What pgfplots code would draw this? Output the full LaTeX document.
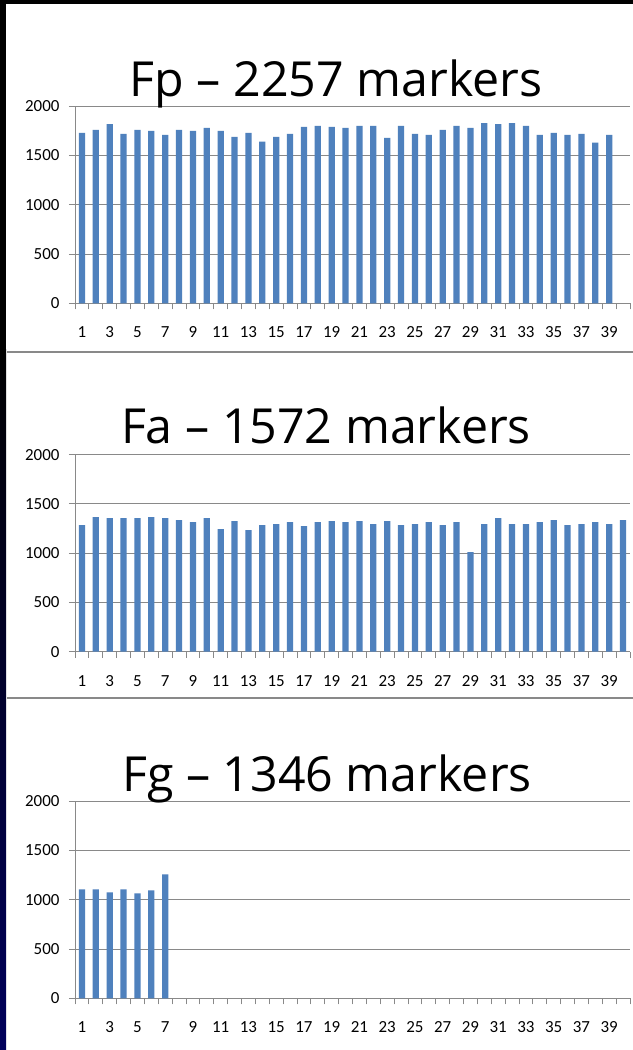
\documentclass[border=0pt]{standalone}
\usepackage{pgfplots}
\pgfplotsset{compat=1.18}
\usepackage{fontspec}
\setmainfont{Carlito}
\newfontfamily\titlefont{Open Sans}
\definecolor{barblue}{HTML}{4F81BD}
\definecolor{gridgray}{HTML}{898989}

\pgfplotsset{panel/.style={
    scale only axis, width=555bp, height=197bp,
    anchor=south west,
    xmin=0.5, xmax=40.5, ymin=0, ymax=2000,
    axis x line*=bottom, axis y line*=left,
    axis line style={gridgray, line width=0.9bp, -},
    ytick={0,500,...,2000},
    ymajorgrids, major grid style={gridgray, line width=0.9bp},
    xtick={1,3,...,39},
    minor xtick={0.5,1.5,...,40.5},
    major x tick style={draw=none},
    minor x tick style={gridgray, line width=0.9bp},
    y tick style={gridgray, line width=0.9bp},
    tick align=outside,
    major tick length=6bp, minor tick length=6bp,
    ticklabel style={font=\fontsize{17}{18}\selectfont},
    xticklabel style={yshift=-14bp},
    yticklabel style={xshift=-6bp},
    /pgf/number format/assume math mode=true,
    /pgf/number format/1000 sep={},
    bar width=6.2bp,
    clip=false,
}}

\begin{document}
\begin{tikzpicture}
\useasboundingbox (0,0) rectangle (633bp,1050bp);
\fill[white] (0,0) rectangle (633bp,1050bp);
% slide edges
\shade[top color=black, bottom color=black!40!blue!60!black] (0,0) rectangle (6bp,700bp);
\fill[black] (0,700bp) rectangle (6bp,1050bp);
\fill[black] (0,1046bp) rectangle (633bp,1050bp);
\draw[gridgray, line width=1.5bp] (7bp,698bp) -- (633bp,698bp);
\draw[gridgray, line width=1.5bp] (7bp,352bp) -- (633bp,352bp);

% Fp panel
\begin{axis}[panel, at={(75bp,746.7bp)}]
\addplot[ybar, fill=barblue, draw=none] coordinates {
(1,1730) (2,1760) (3,1820) (4,1720) (5,1760) (6,1750) (7,1710) (8,1760)
(9,1750) (10,1780) (11,1750) (12,1690) (13,1730) (14,1640) (15,1690) (16,1720)
(17,1790) (18,1800) (19,1790) (20,1780) (21,1800) (22,1800) (23,1680) (24,1800)
(25,1720) (26,1710) (27,1760) (28,1800) (29,1780) (30,1830) (31,1820) (32,1830)
(33,1800) (34,1710) (35,1730) (36,1710) (37,1720) (38,1630) (39,1710)};
\end{axis}
\node[anchor=base, inner sep=0pt] at (336bp,953bp) {\titlefont\fontsize{48.5}{50}\selectfont Fp – 2257 markers};

% Fa panel
\begin{axis}[panel, at={(75bp,398.3bp)}]
\addplot[ybar, fill=barblue, draw=none] coordinates {
(1,1285) (2,1365) (3,1355) (4,1355) (5,1355) (6,1365) (7,1355) (8,1335)
(9,1315) (10,1355) (11,1245) (12,1325) (13,1235) (14,1285) (15,1295) (16,1315)
(17,1275) (18,1315) (19,1325) (20,1315) (21,1325) (22,1295) (23,1325) (24,1285)
(25,1295) (26,1315) (27,1285) (28,1315) (29,1010) (30,1295) (31,1355) (32,1295)
(33,1295) (34,1315) (35,1335) (36,1285) (37,1295) (38,1315) (39,1295) (40,1335)};
\end{axis}
\node[anchor=base, inner sep=0pt] at (326bp,606bp) {\titlefont\fontsize{48.5}{50}\selectfont Fa – 1572 markers};

% Fg panel
\begin{axis}[panel, at={(75bp,51.7bp)}]
\addplot[ybar, fill=barblue, draw=none] coordinates {
(1,1105) (2,1105) (3,1075) (4,1105) (5,1065) (6,1095) (7,1258)};
\end{axis}
\node[anchor=base, inner sep=0pt] at (327bp,258bp) {\titlefont\fontsize{48.5}{50}\selectfont Fg – 1346 markers};
\end{tikzpicture}
\end{document}
